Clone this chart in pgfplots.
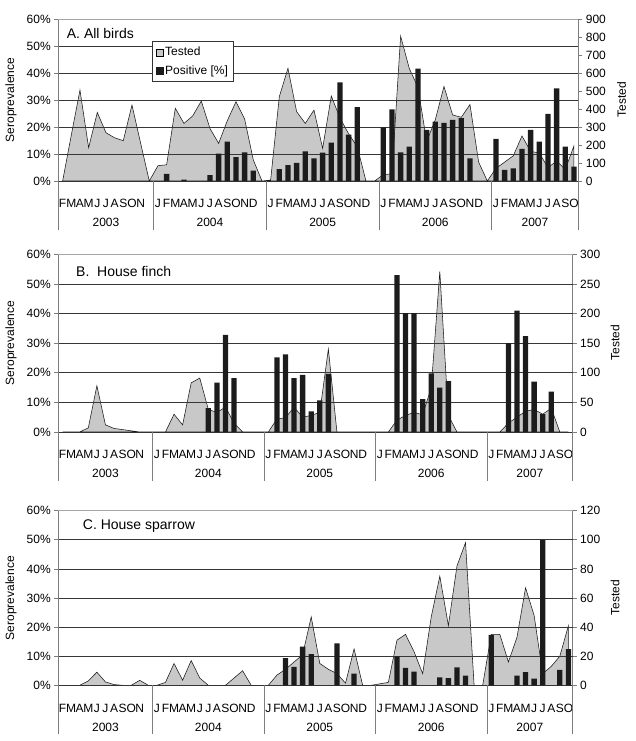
\documentclass[border=0pt]{standalone}
\usepackage{fontspec}
\setmainfont{Liberation Sans}
\usepackage{pgfplots}
\usepackage{pgfplotstable}
\pgfplotsset{compat=1.18}
\definecolor{areagray}{RGB}{200,200,200}
\definecolor{bardark}{RGB}{28,28,28}
\definecolor{axgray}{RGB}{125,125,125}
\definecolor{gridc}{RGB}{55,55,55}
\newcommand{\fs}{\fontsize{12}{13.5}\selectfont}

% ---------- Panel A: All birds ----------
\pgfplotstableread{
i t
0 0
1 255
2 505
3 185
4 381
5 268
6 240
7 224
8 422
9 210
10 0
11 85
12 90
13 404
14 320
15 361
16 444
17 292
18 209
19 335
20 440
21 344
22 117
23 0
24 5
25 468
26 626
27 385
28 320
29 394
30 181
31 472
32 350
33 262
34 190
35 0
36 0
37 35
38 40
39 805
40 625
41 520
42 220
43 340
44 525
45 367
46 354
47 425
48 105
49 0
50 70
51 105
52 140
53 250
54 165
55 155
56 75
57 110
58 65
59 195
}\testA
\pgfplotstableread{
i p
12 2.6
14 0.5
17 2.2
18 10.1
19 14.6
20 8.8
21 10.6
22 3.8
25 4.4
26 5.9
27 6.7
28 11.0
29 8.4
30 10.5
31 14.2
32 36.5
33 17.2
34 27.4
37 19.9
38 26.5
39 10.6
40 12.7
41 41.6
42 18.9
43 22.0
44 21.5
45 22.6
46 23.3
47 8.4
50 15.6
51 4.1
52 4.7
53 11.9
54 18.9
55 14.6
56 24.9
57 34.3
58 12.7
59 5.3
}\posA

% ---------- Panel B: House finch ----------
\pgfplotstableread{
i t
0 0
1 0
2 0
3 7
4 78
5 12
6 6
7 4
8 2
9 0
10 0
11 0
12 0
13 30
14 12
15 83
16 91
17 38
18 33
19 42
20 15
21 0
22 0
23 0
24 0
25 22
26 24
27 42
28 25
29 28
30 33
31 140
32 0
33 0
34 0
35 0
36 0
37 0
38 0
39 20
40 28
41 33
42 29
43 75
44 271
45 28
46 0
47 0
48 0
49 0
50 0
51 0
52 15
53 25
54 35
55 38
56 30
57 40
58 0
59 0
}\testB
\pgfplotstableread{
i p
17 8.1
18 16.7
19 32.8
20 18.2
25 25.2
26 26.2
27 18.2
28 19.3
29 7.0
30 10.7
31 19.6
39 53.0
40 40.1
41 40.1
42 11.1
43 19.8
44 15.0
45 17.2
52 30.0
53 41.0
54 32.4
55 17.0
56 6.0
57 13.6
}\posB

% ---------- Panel C: House sparrow ----------
\pgfplotstableread{
i t
0 0
1 0
2 0
3 3
4 9
5 2.3
6 0.5
7 0
8 0
9 3.4
10 0
11 0
12 2
13 15
14 3.5
15 17
16 5
17 0
18 0
19 0
20 5
21 10
22 0
23 0
24 0
25 7
26 11
27 16
28 21
29 47
30 15
31 11
32 8
33 1.5
34 25
35 0
36 0
37 1
38 2
39 31
40 35
41 23
42 8
43 47
44 75
45 41
46 82
47 98
48 0
49 0
50 35
51 35
52 16
53 33
54 67
55 48
56 8
57 13
58 20
59 41
}\testC
\pgfplotstableread{
i p
26 9.3
27 6.3
28 13.3
29 10.7
32 14.4
34 4.0
39 9.9
40 6.0
41 4.7
44 2.7
45 2.5
46 6.2
47 3.3
50 17.3
53 3.3
54 4.5
55 2.3
56 50.0
58 5.3
59 12.4
}\posC

\pgfplotsset{
  base/.style={scale only axis, anchor=south west, xmin=-0.5, xmax=59.5, ymin=0,
    tick label style={font=\fs}, tick align=outside, major tick length=4pt},
  testedax/.style={base, hide x axis, axis y line*=right,
    y axis line style={axgray, line width=0.8pt, -},
    ytick style={axgray, line width=0.8pt}},
  percentax/.style={base, ymax=60, clip=false,
    axis y line*=left, axis x line*=bottom,
    y axis line style={axgray, line width=0.8pt, -},
    x axis line style={black!80, line width=0.8pt, -},
    ytick={0,10,...,60}, yticklabels={0\%,10\%,20\%,30\%,40\%,50\%,60\%},
    ytick style={axgray, line width=0.8pt},
    ymajorgrids, major grid style={gridc, line width=0.8pt},
    xtick={0,...,59},
    xticklabels={F,M,A,M,J,J,A,S,O,N,{},J,F,M,A,M,J,J,A,S,O,N,D,{},J,F,M,A,M,J,J,A,S,O,N,D,{},J,F,M,A,M,J,J,A,S,O,N,D,{},J,F,M,A,M,J,J,A,S,O},
    xtick style={draw=none},
    xticklabel style={anchor=base, yshift=-23pt}},
  areastyle/.style={fill=areagray, draw=black!90, line width=0.55pt},
  barstyle/.style={ybar, bar width=5.3pt, bar shift=0pt, fill=bardark, draw=none, forget plot},
  decor/.code={%
    \draw[black!35, line width=0.8pt] (rel axis cs:0,1) -- (rel axis cs:1,1);
    \pgfplotsinvokeforeach{-0.5,10.5,23.5,36.5,49.5,59.5}{%
      \draw[axgray, line width=0.8pt] (axis cs:##1,0) -- ++(0pt,-49pt);}
    \node[anchor=base, font=\fs] at ([yshift=-46pt]axis cs:5,0) {2003};
    \node[anchor=base, font=\fs] at ([yshift=-46pt]axis cs:17,0) {2004};
    \node[anchor=base, font=\fs] at ([yshift=-46pt]axis cs:30,0) {2005};
    \node[anchor=base, font=\fs] at ([yshift=-46pt]axis cs:43,0) {2006};
    \node[anchor=base, font=\fs] at ([yshift=-46pt]axis cs:54.5,0) {2007};
  },
}

\begin{document}
\begin{tikzpicture}
\useasboundingbox (0pt,0pt) rectangle (635pt,741pt);

% ===== Panel A =====
\begin{axis}[testedax, at={(58.3pt,560pt)}, width=520pt, height=162pt,
  ymax=900, ytick={0,100,...,900}, yticklabels={0,100,200,300,400,500,600,700,800,900}]
\addplot[areastyle] table[x=i,y=t]{\testA} \closedcycle;
\end{axis}
\begin{axis}[percentax, at={(58.3pt,560pt)}, width=520pt, height=162pt,
  legend style={at={(0.1808,0.8642)}, anchor=north west, draw=black!80, fill=white,
    font=\fs, inner xsep=3pt, inner ysep=4pt, row sep=4pt, line width=0.6pt},
  legend cell align=left]
\addlegendimage{legend image code/.code={\draw[fill=areagray,draw=black,line width=0.5pt] (0pt,-3.5pt) rectangle (7pt,3.5pt);}}
\addlegendentry{Tested}
\addlegendimage{legend image code/.code={\fill[bardark] (0pt,-3.5pt) rectangle (7pt,3.5pt);}}
\addlegendentry{Positive [\%]}
\addplot[barstyle] table[x=i,y=p]{\posA};
\pgfplotsset{decor}
\end{axis}

% ===== Panel B =====
\begin{axis}[testedax, at={(58.3pt,309pt)}, width=514.4pt, height=177.7pt,
  ymax=300, ytick={0,50,...,300}, yticklabels={0,50,100,150,200,250,300}]
\addplot[areastyle] table[x=i,y=t]{\testB} \closedcycle;
\end{axis}
\begin{axis}[percentax, at={(58.3pt,309pt)}, width=514.4pt, height=177.7pt]
\addplot[barstyle] table[x=i,y=p]{\posB};
\pgfplotsset{decor}
\end{axis}

% ===== Panel C =====
\begin{axis}[testedax, at={(58.3pt,55.7pt)}, width=514.4pt, height=174.6pt,
  ymax=120, ytick={0,20,...,120}, yticklabels={0,20,40,60,80,100,120}]
\addplot[areastyle] table[x=i,y=t]{\testC} \closedcycle;
\end{axis}
\begin{axis}[percentax, at={(58.3pt,55.7pt)}, width=514.4pt, height=174.6pt]
\addplot[barstyle] table[x=i,y=p]{\posC};
\pgfplotsset{decor}
\end{axis}

% titles and axis labels
\node[anchor=base west, inner sep=0pt, font=\fontsize{14}{16}\selectfont] at (66.7pt,702.5pt) {A. All birds};
\node[anchor=base west, inner sep=0pt, font=\fontsize{14}{16}\selectfont] at (76pt,464pt) {B.\ \ House finch};
\node[anchor=base west, inner sep=0pt, font=\fontsize{14}{16}\selectfont] at (82.7pt,211pt) {C. House sparrow};
\node[rotate=90, font=\fs] at (11pt,641pt) {Seroprevalence};
\node[rotate=90, font=\fs] at (11pt,398pt) {Seroprevalence};
\node[rotate=90, font=\fs] at (11pt,143pt) {Seroprevalence};
\node[rotate=90, font=\fs] at (621.7pt,641pt) {Tested};
\node[rotate=90, font=\fs] at (615pt,398pt) {Tested};
\node[rotate=90, font=\fs] at (615pt,143pt) {Tested};
\end{tikzpicture}
\end{document}
